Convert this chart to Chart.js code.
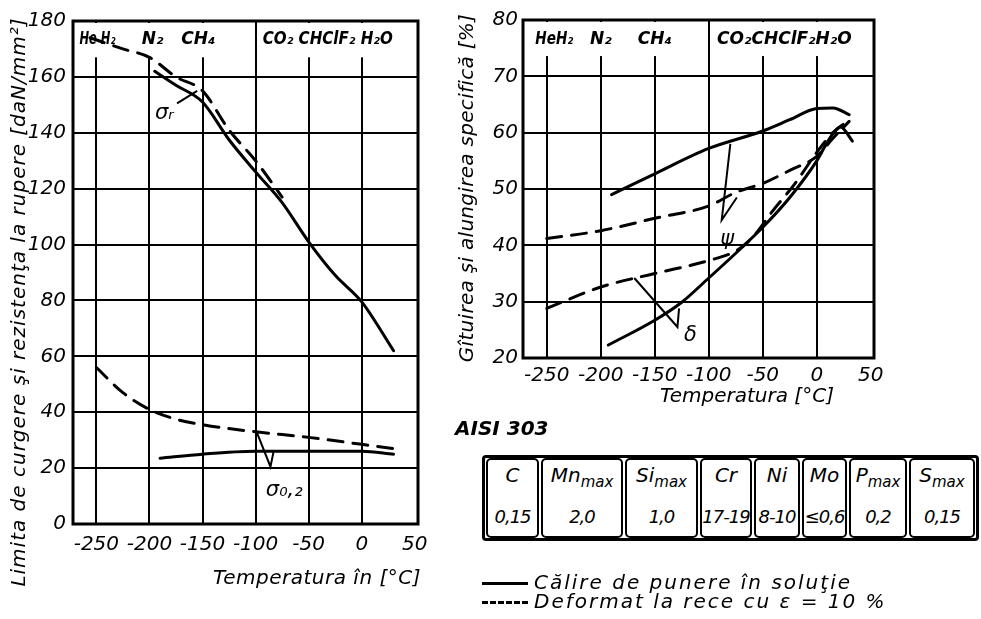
<!DOCTYPE html>
<html><head><meta charset="utf-8">
<script src="https://cdn.jsdelivr.net/npm/chart.js@4.4.1/dist/chart.umd.min.js"></script>
<style>
html,body{margin:0;padding:0;background:#fff}
body{width:981px;height:619px;overflow:hidden;position:relative;font-family:'DejaVu Sans',sans-serif;font-style:italic;color:#000}
.abs{position:absolute;white-space:nowrap}
#w1{left:0;top:0;width:450px;height:619px}
#w2{left:450px;top:0;width:531px;height:420px}
.rot{transform:rotate(-90deg);text-align:center}
#table{left:482px;top:455px;display:flex;border:3px solid #000;border-radius:4px;height:80px}
.cell{border:2px solid #000;border-radius:5px;margin:0 1px;box-sizing:border-box;padding:0;text-align:center}
.cell span{display:block}
.cell .h{font-size:20px;line-height:26px;margin-top:2px}
.cell .v{font-size:18px;line-height:26px;margin-top:16px;letter-spacing:-1px}
sub{font-size:15px;vertical-align:-5px;line-height:0}
.leg{font-size:20px;left:482px;letter-spacing:2px}
.leg i.ln{display:inline-block;width:46px;height:0;border-top:3px solid #000;vertical-align:middle;margin-right:6px}
.leg i.dl{border-top:3px dashed #000}
</style></head>
<body>
<div id="w1" class="abs"><canvas id="c1"></canvas></div>
<div id="w2" class="abs"><canvas id="c2"></canvas></div>

<div class="abs rot" style="left:-282px;top:290px;width:600px;height:24px;line-height:24px;font-size:20px;letter-spacing:1px">Limita de curgere şi rezistenţa la rupere [daN/mm²]</div>
<div class="abs" style="left:213px;top:565px;font-size:20px;letter-spacing:0.5px">Temperatura în [°C]</div>
<div class="abs rot" style="left:286px;top:176px;width:360px;height:24px;line-height:24px;font-size:20px;letter-spacing:0.3px">Gîtuirea şi alungirea specifică [%]</div>
<div class="abs" style="left:660px;top:383px;font-size:20px">Temperatura [°C]</div>

<div class="abs" style="left:455px;top:416px;font-size:20px;font-weight:bold">AISI 303</div>
<div id="table" class="abs"></div>
<div class="abs leg" style="top:570px"><i class="ln"></i>Călire de punere în soluţie</div>
<div class="abs leg" style="top:589px"><i class="ln dl"></i>Deformat la rece cu ε = 10 %</div>

<script>
// ---------- data ----------
const tempTicks = [-250, -200, -150, -100, -50, 0, 50];
const strengthTicks = [0, 20, 40, 60, 80, 100, 120, 140, 160, 180];
const ductTicks = [20, 30, 40, 50, 60, 70, 80];

const gasNames1 = ['He H₂', 'N₂', 'CH₄', 'CO₂ CHClF₂ H₂O'];
const gasTemps1 = [-249, -197, -154, -32];
const gasNames2 = ['HeH₂', 'N₂', 'CH₄', 'CO₂CHClF₂H₂O'];
const gasTemps2 = [-243, -200, -150, -30];

// left chart: strength [daN/mm²]
const sigRSolidT = [-195, -175, -150, -125, -100, -75, -50, -25, 0, 30];
const sigRSolidV = [162, 157, 151, 137.5, 126, 115, 101, 89, 79.5, 62];
const sigRDashT = [-256, -225, -200, -175, -150, -125, -100, -75];
const sigRDashV = [174, 170, 167, 160, 155, 141, 130, 117];
const sig02DashT = [-250, -225, -200, -175, -150, -100, -50, 0, 30];
const sig02DashV = [56, 47, 41, 37.5, 35.5, 33, 31, 28.5, 27];
const sig02SolidT = [-190, -150, -100, -50, 0, 30];
const sig02SolidV = [23.5, 25, 26, 26, 26, 25];

// right chart: reduction of area (psi) and elongation (delta) [%]
const psiSolidT = [-190, -150, -100, -50, -25, 0, 15, 30];
const psiSolidV = [49, 52.7, 57.2, 60.3, 62.3, 64.3, 64.4, 63.2];
const psiDashT = [-250, -200, -150, -100, -75, -50, -25, 0, 15, 30];
const psiDashV = [41.2, 42.6, 44.8, 47, 49.4, 51, 53.3, 55.8, 59, 62];
const deltaSolidT = [-193, -150, -125, -100, -75, -50, -25, 0, 12, 22, 33];
const deltaSolidV = [22.3, 26.7, 29.9, 34.2, 38.6, 43.2, 48.5, 55, 59, 61, 58.5];
const deltaDashT = [-250, -200, -150, -100, -75, -60, -40, -20, 0, 15, 28];
const deltaDashV = [28.8, 32.6, 35, 37.3, 39, 41.3, 46.3, 51, 56.5, 60, 62];

// curve labels and their leader lines (data coordinates)
const labels1 = [{text:'σᵣ', x:-186, y:147}, {text:'σ₀,₂', x:-73, y:12}];
const leaderSigR = [[-174, 150.5], [-155, 155]];
const leaderSig02 = [[-99, 33], [-86, 20.5], [-83, 26]];
const labels2 = [{text:'ψ', x:-83, y:41}, {text:'δ', x:-117, y:24}];
const leaderPsi = [[-80, 58], [-88, 44.5], [-74, 48.5]];
const leaderDelta = [[-169, 34.2], [-129, 25.5], [-127.5, 28.8]];

// composition table
const elements = ['C', 'Mn<sub>max</sub>', 'Si<sub>max</sub>', 'Cr', 'Ni', 'Mo', 'P<sub>max</sub>', 'S<sub>max</sub>'];
const contents = ['0,15', '2,0', '1,0', '17-19', '8-10', '≤0,6', '0,2', '0,15'];
const cellWidths = [53, 82, 73, 52, 46, 45, 58, 66];

// ---------- table ----------
const tb = document.getElementById('table');
elements.forEach((e, i) => {
  const d = document.createElement('div');
  d.className = 'cell';
  d.style.width = cellWidths[i] + 'px';
  d.innerHTML = '<span class="h">' + e + '</span><span class="v">' + contents[i] + '</span>';
  tb.appendChild(d);
});

// ---------- charts ----------
const pts = (T, V) => T.map((t, i) => ({x: t, y: V[i]}));
const pairs = a => a.map(p => ({x: p[0], y: p[1]}));
const FONT = {family: "'DejaVu Sans', sans-serif", size: 20, style: 'italic'};

const framePlugin = {
  id: 'frame',
  beforeDatasetsDraw(chart, args, o) {
    const {ctx, chartArea: a, scales: {x, y}} = chart;
    const yb = y.getPixelForValue(o.bandFrom);
    const xd = x.getPixelForValue(-100);
    ctx.save();
    ctx.fillStyle = '#fff';
    ctx.fillRect(a.left + 2, a.top + 2, xd - 1.5 - a.left - 2, yb - a.top - 2);
    ctx.fillRect(xd + 1.5, a.top + 2, a.right - 2 - xd - 1.5, yb - a.top - 2);
    ctx.fillStyle = '#000';
    ctx.font = "bold italic 17px 'DejaVu Sans', sans-serif";
    ctx.textAlign = 'center';
    ctx.textBaseline = 'middle';
    o.names.forEach((n, i) => {
      ctx.fillText(n, x.getPixelForValue(o.temps[i]), y.getPixelForValue(o.gasY), o.widths[i]);
    });
    ctx.restore();
  },
  afterDatasetsDraw(chart, args, o) {
    const {ctx, chartArea: a, scales: {x, y}} = chart;
    ctx.save();
    ctx.lineWidth = 3;
    ctx.strokeStyle = '#000';
    ctx.strokeRect(a.left, a.top, a.right - a.left, a.bottom - a.top);
    ctx.fillStyle = '#000';
    ctx.font = "italic 21px 'DejaVu Sans', sans-serif";
    ctx.textAlign = 'center';
    ctx.textBaseline = 'middle';
    o.labels.forEach(l => ctx.fillText(l.text, x.getPixelForValue(l.x), y.getPixelForValue(l.y)));
    ctx.restore();
  }
};

function line(data, dashed) {
  return {data, borderColor: '#000', borderWidth: 3, borderDash: dashed ? [15, 10] : [],
    pointRadius: 0, fill: false, cubicInterpolationMode: 'monotone', borderCapStyle: 'round'};
}
function leader(data) {
  return {data, borderColor: '#000', borderWidth: 2, pointRadius: 0, fill: false, tension: 0,
    borderJoinStyle: 'miter'};
}

function makeChart(id, cfg) {
  return new Chart(document.getElementById(id), {
    type: 'line',
    data: {datasets: cfg.datasets},
    plugins: [framePlugin],
    options: {
      responsive: true, maintainAspectRatio: false, animation: false,
      layout: {padding: cfg.padding},
      plugins: {legend: {display: false}, tooltip: {enabled: false}, frame: cfg.frame},
      scales: {
        x: {
          type: 'linear', min: -272, max: 53,
          afterBuildTicks: s => { s.ticks = tempTicks.map(v => ({value: v})); },
          afterFit: s => { s.height = cfg.xH; },
          ticks: {color: '#000', font: FONT, padding: cfg.xPad, maxRotation: 0, autoSkip: false,
            callback: v => String(v)},
          grid: {color: c => (c.tick && c.tick.value === 50) ? 'rgba(0,0,0,0)' : '#000', lineWidth: 2, drawTicks: false},
          border: {display: false}
        },
        y: {
          type: 'linear', min: cfg.yMin, max: cfg.yMax,
          afterBuildTicks: s => { s.ticks = cfg.yTicks.map(v => ({value: v})); },
          afterFit: s => { s.width = 73; },
          ticks: {color: '#000', font: FONT, padding: cfg.yPad, autoSkip: false, callback: v => String(v)},
          grid: {color: '#000', lineWidth: 2, drawTicks: false},
          border: {display: false}
        }
      }
    }
  });
}

makeChart('c1', {
  padding: {top: 21, right: 32, bottom: 0, left: 0},
  xH: 95, xPad: 9, yPad: 7,
  yMin: 0, yMax: 180, yTicks: strengthTicks,
  frame: {bandFrom: 167, gasY: 173.5, names: gasNames1, temps: gasTemps1, widths: [36, 22, 38, 130], labels: labels1},
  datasets: [
    line(pts(sigRSolidT, sigRSolidV), false),
    line(pts(sigRDashT, sigRDashV), true),
    line(pts(sig02DashT, sig02DashV), true),
    line(pts(sig02SolidT, sig02SolidV), false),
    leader(pairs(leaderSigR)),
    leader(pairs(leaderSig02))
  ]
});

makeChart('c2', {
  padding: {top: 20, right: 107, bottom: 0, left: 0},
  xH: 62, xPad: 6, yPad: 5,
  yMin: 20, yMax: 80, yTicks: ductTicks,
  frame: {bandFrom: 73.6, gasY: 76.6, names: gasNames2, temps: gasTemps2, widths: [38, 22, 40, 136], labels: labels2},
  datasets: [
    line(pts(psiSolidT, psiSolidV), false),
    line(pts(psiDashT, psiDashV), true),
    line(pts(deltaSolidT, deltaSolidV), false),
    line(pts(deltaDashT, deltaDashV), true),
    leader(pairs(leaderPsi)),
    leader(pairs(leaderDelta))
  ]
});
</script>
</body></html>
